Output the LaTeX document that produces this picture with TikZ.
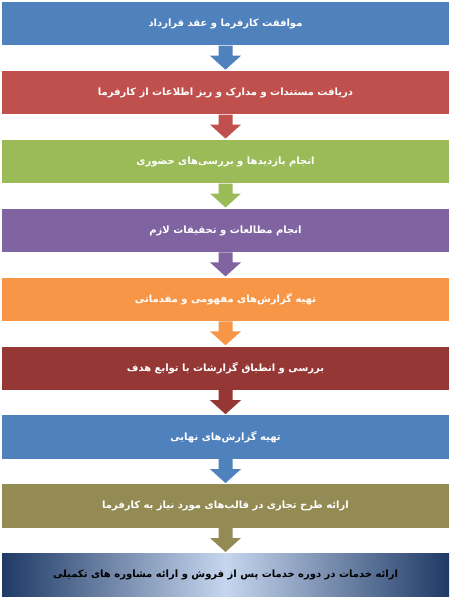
\documentclass[tikz,border=0pt]{standalone}
\usepackage{fontspec}
\newfontfamily\fa[Script=Arabic]{DejaVu Sans}
\TeXXeTstate=1
\definecolor{cA}{HTML}{4F81BD}
\definecolor{cB}{HTML}{C0504D}
\definecolor{cC}{HTML}{9BBB59}
\definecolor{cD}{HTML}{8064A2}
\definecolor{cE}{HTML}{F79646}
\definecolor{cF}{HTML}{953735}
\definecolor{cG}{HTML}{4F81BD}
\definecolor{cH}{HTML}{948A54}
\definecolor{navy}{HTML}{1F3A66}
\definecolor{lightblue}{HTML}{C6D6EE}
\tikzset{
  stepbox/.style={rectangle, minimum width=447pt, minimum height=43.5pt, inner sep=0pt,
    text=white, font=\fa\bfseries\fontsize{10}{12}\selectfont},
}
\newcommand{\flowarrow}[3]{%
  \fill[#3] ([xshift=-7pt]#1.south) -- ([xshift=-7pt,yshift=-10pt]#1.south)
    -- ([xshift=-15.5pt,yshift=-10pt]#1.south) -- ([yshift=1pt]#2.north)
    -- ([xshift=15.5pt,yshift=-10pt]#1.south) -- ([xshift=7pt,yshift=-10pt]#1.south)
    -- ([xshift=7pt]#1.south) -- cycle;}
\begin{document}
\begin{tikzpicture}[x=1pt,y=1pt]
\useasboundingbox (0,0) rectangle (452,-599);
\node[stepbox, fill=cA] (b1) at (225.5,-23.75) {\beginR موافقت کارفرما و عقد قرارداد\endR};
\node[stepbox, fill=cB] (b2) at (225.5,-92.65) {\beginR دریافت مستندات و مدارک و ریز اطلاعات از کارفرما\endR};
\node[stepbox, fill=cC] (b3) at (225.5,-161.55) {\beginR انجام بازدیدها و بررسی‌های حضوری\endR};
\node[stepbox, fill=cD] (b4) at (225.5,-230.45) {\beginR انجام مطالعات و تحقیقات لازم\endR};
\node[stepbox, fill=cE] (b5) at (225.5,-299.35) {\beginR تهیه گزارش‌های مفهومی و مقدماتی\endR};
\node[stepbox, fill=cF] (b6) at (225.5,-368.25) {\beginR بررسی و انطباق گزارشات با توابع هدف\endR};
\node[stepbox, fill=cG] (b7) at (225.5,-437.15) {\beginR تهیه گزارش‌های نهایی\endR};
\node[stepbox, fill=cH] (b8) at (225.5,-506.05) {\beginR ارائه طرح تجاری در قالب‌های مورد نیاز به کارفرما\endR};
\node[stepbox, text=black, left color=navy, right color=navy, middle color=lightblue] (b9) at (225.5,-574.95) {\beginR ارائه خدمات در دوره خدمات پس از فروش و ارائه مشاوره های تکمیلی\endR};
\flowarrow{b1}{b2}{cA}
\flowarrow{b2}{b3}{cB}
\flowarrow{b3}{b4}{cC}
\flowarrow{b4}{b5}{cD}
\flowarrow{b5}{b6}{cE}
\flowarrow{b6}{b7}{cF}
\flowarrow{b7}{b8}{cG}
\flowarrow{b8}{b9}{cH}
\end{tikzpicture}
\end{document}
